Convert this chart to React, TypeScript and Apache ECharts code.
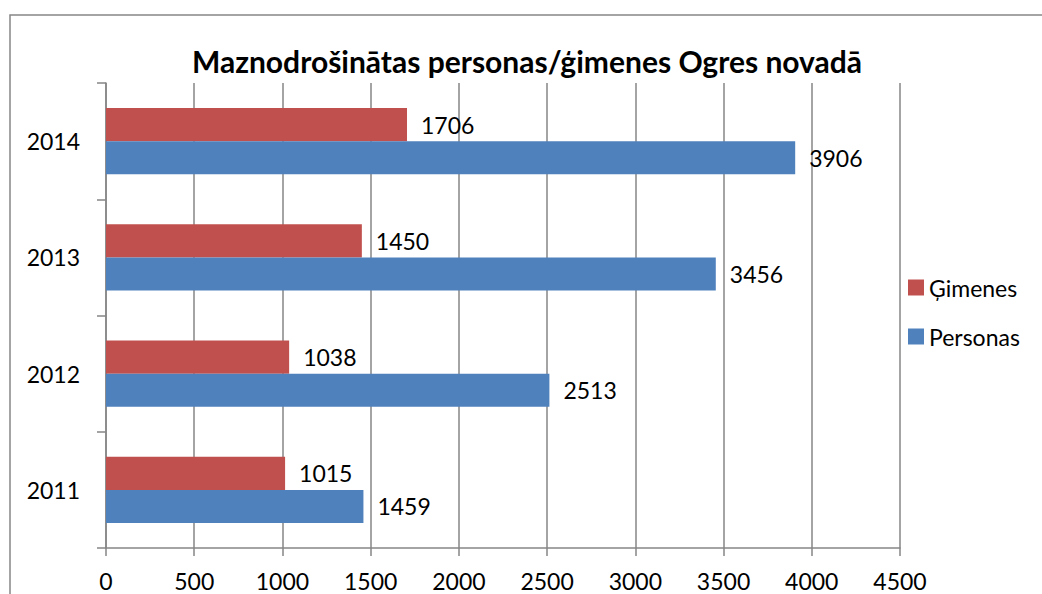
import React, { useEffect, useRef } from "react";
import * as echarts from "echarts";

const years = ["2011", "2012", "2013", "2014"];
const gimenes = [1015, 1038, 1450, 1706];
const personas = [1459, 2513, 3456, 3906];
const xTicks = { min: 0, max: 4500, interval: 500 };

const FONT = "Lato, 'Open Sans', sans-serif";
const GRAY = "#868686";
const FS = 23;

export default function App() {
  const ref = useRef<HTMLDivElement>(null);
  useEffect(() => {
    const chart = echarts.init(ref.current!, null, { renderer: "svg" });
    const label = {
      show: true,
      position: "right",
      distance: 14,
      color: "#000",
      fontSize: FS,
      fontFamily: FONT,
    };
    chart.setOption({
      animation: false,
      backgroundColor: "#fff",
      title: {
        text: "Maznodrošinātas personas/ģimenes Ogres novadā",
        left: 522,
        textAlign: "center",
        top: 41,
        textStyle: { fontSize: 30, fontWeight: "bold", color: "#000", fontFamily: FONT },
      },
      graphic: [
        {
          type: "rect",
          shape: { x: 10, y: 15, width: 1100, height: 700 },
          style: { fill: "none", stroke: GRAY, lineWidth: 1.5 },
          silent: true,
        },
      ],
      legend: {
        orient: "vertical",
        left: 903,
        top: 271,
        itemWidth: 16,
        itemHeight: 16,
        itemGap: 26,
        icon: "rect",
        textStyle: { fontSize: FS, color: "#000", fontFamily: FONT },
        data: ["Ģimenes", "Personas"],
      },
      grid: { left: 106, right: 142, top: 83, bottom: 46, containLabel: false },
      xAxis: {
        type: "value",
        min: xTicks.min,
        max: xTicks.max,
        interval: xTicks.interval,
        axisLine: { show: true, lineStyle: { color: GRAY, width: 1.5 } },
        axisTick: { show: true, length: 8, lineStyle: { color: GRAY, width: 1.5 } },
        splitLine: { show: true, lineStyle: { color: GRAY, width: 1.5 } },
        axisLabel: {
          fontSize: FS,
          color: "#000",
          margin: 21,
          fontFamily: FONT,
          formatter: (v: number) => String(v),
        },
      },
      yAxis: {
        type: "category",
        data: years,
        axisLine: { show: true, lineStyle: { color: GRAY, width: 1.5 } },
        axisTick: { show: true, length: 9, lineStyle: { color: GRAY, width: 1.5 } },
        axisLabel: { fontSize: FS, color: "#000", margin: 26, fontFamily: FONT },
      },
      series: [
        {
          name: "Ģimenes",
          type: "bar",
          data: gimenes,
          itemStyle: { color: "#C0504D" },
          barGap: "0%",
          barCategoryGap: "43%",
          label,
        },
        {
          name: "Personas",
          type: "bar",
          data: personas,
          itemStyle: { color: "#4F81BD" },
          barGap: "0%",
          barCategoryGap: "43%",
          label,
        },
      ],
    });
    return () => chart.dispose();
  }, []);
  return (
    <div
      ref={ref}
      style={{ position: "fixed", left: 0, top: 0, width: 1042, height: 594 }}
    />
  );
}
